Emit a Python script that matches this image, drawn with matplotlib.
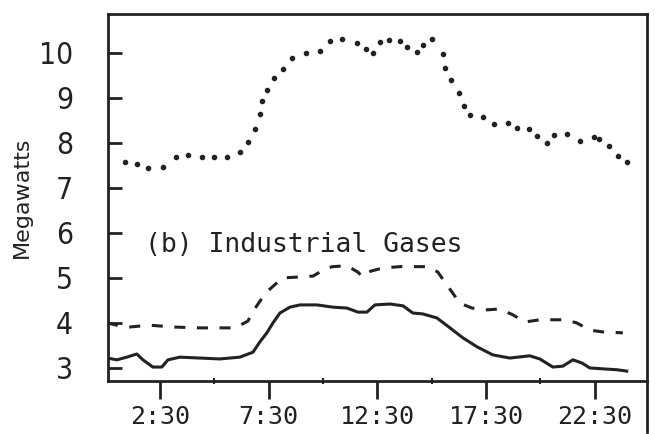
#!/usr/bin/env python3
"""
Load curve, (b) Industrial Gases: megawatts over the day
"""
import matplotlib
matplotlib.use('Agg')
import matplotlib.pyplot as plt

INK = '#222222'

# time of day in hours
dot_h = [0.89, 1.44, 1.95, 2.64, 3.24, 3.79, 4.43, 4.98, 5.58, 6.18, 6.55, 6.87,
         7.10, 7.19, 7.42, 7.74, 8.15, 8.57, 9.21, 9.86, 10.32, 10.87, 11.56,
         11.97, 12.29, 12.62, 13.03, 13.54, 13.86, 14.32, 14.59, 15.01, 15.51,
         15.60, 15.88, 16.25, 16.48, 16.75, 17.35, 17.86, 18.50, 18.92, 19.47,
         19.84, 20.29, 20.62, 21.21, 21.81, 22.46, 22.69, 23.15, 23.56, 23.97]
dot_mw = [7.57, 7.53, 7.44, 7.46, 7.68, 7.73, 7.68, 7.68, 7.68, 7.80, 8.02, 8.31,
          8.64, 8.93, 9.17, 9.44, 9.64, 9.88, 9.99, 10.04, 10.26, 10.30, 10.22,
          10.08, 9.99, 10.24, 10.28, 10.26, 10.13, 10.02, 10.17, 10.30, 9.97,
          9.66, 9.39, 9.11, 8.82, 8.62, 8.57, 8.42, 8.44, 8.33, 8.31,
          8.15, 8.00, 8.17, 8.20, 8.04, 8.13, 8.08, 7.93, 7.71, 7.57]

dash_h = [0.07, 0.52, 1.12, 2.04, 3.05, 4.29, 5.54, 5.95, 6.55, 6.73, 7.24, 7.42,
          7.88, 8.11, 8.94, 9.54, 10.18, 10.46, 11.10, 11.60, 11.83, 12.20, 12.75,
          13.54, 14.13, 14.82, 15.28, 15.60, 15.97, 16.29, 16.85, 17.54, 18.13,
          18.73, 19.28, 19.97, 20.57, 21.12, 21.67, 22.27, 22.87, 23.79]
dash_mw = [4.00, 3.95, 3.91, 3.95, 3.91, 3.89, 3.89, 3.89, 4.04, 4.22, 4.58, 4.69,
           4.89, 5.00, 5.02, 5.04, 5.22, 5.25, 5.27, 5.13, 5.02, 5.15, 5.22,
           5.25, 5.25, 5.25, 5.13, 4.91, 4.66, 4.44, 4.33, 4.29, 4.31,
           4.18, 4.02, 4.07, 4.07, 4.07, 4.00, 3.84, 3.80, 3.78]

sol_h = [0.10, 0.52, 0.98, 1.44, 1.72, 2.18, 2.59, 2.87, 3.42, 4.34, 5.26, 6.18,
         6.78, 7.10, 7.42, 7.70, 8.02, 8.48, 8.94, 9.72, 10.46, 11.10, 11.61,
         12.02, 12.39, 13.08, 13.68, 14.13, 14.59, 15.24, 15.84, 16.43, 17.08,
         17.81, 18.59, 19.51, 19.97, 20.57, 21.03, 21.49, 21.91, 22.27, 22.87,
         23.52, 23.97]
sol_mw = [3.22, 3.18, 3.24, 3.31, 3.18, 3.02, 3.02, 3.18, 3.24, 3.22, 3.20, 3.24,
          3.35, 3.58, 3.78, 4.00, 4.22, 4.35, 4.40, 4.40, 4.35, 4.33, 4.24,
          4.24, 4.40, 4.42, 4.38, 4.22, 4.20, 4.11, 3.89, 3.67, 3.47,
          3.29, 3.22, 3.27, 3.20, 3.02, 3.04, 3.18, 3.11, 3.00, 2.98,
          2.96, 2.93]

y_ticks = [3, 4, 5, 6, 7, 8, 9, 10]
x_ticks = [2.5, 7.5, 12.5, 17.5, 22.5]
x_labels = ['2:30', '7:30', '12:30', '17:30', '22:30']
x_minor = [5, 10, 15, 20]

fig = plt.figure(figsize=(6.55, 4.34), dpi=100)
ax = fig.add_axes([0.1644, 0.1221, 0.8234, 0.8456])

ax.plot(dot_h, dot_mw, ls='none', marker='o', ms=3.0, color=INK)
ax.plot(dash_h, dash_mw, color=INK, lw=2.2, dashes=(3.6, 3.8))
ax.plot(sol_h, sol_mw, color=INK, lw=2.2)

ax.text(1.81, 5.58, '(b) Industrial Gases', family='DejaVu Sans Mono',
        fontsize=19, color=INK, va='baseline')

ax.set_xlim(0.1, 24.9)
ax.set_ylim(2.71, 10.86)

ax.set_yticks(y_ticks)
ax.set_yticklabels([str(v) for v in y_ticks], family='DejaVu Sans',
                   fontstretch='condensed', fontsize=21.5)
ax.tick_params(axis='y', direction='in', length=10, width=2, color=INK,
               pad=25, labelcolor=INK)

ax.set_xticks(x_ticks)
ax.set_xticklabels(x_labels, family='DejaVu Sans Mono', fontsize=18)
ax.set_xticks(x_minor, minor=True)
ax.tick_params(axis='x', which='major', direction='out', length=13, width=2,
               color=INK, pad=4, labelcolor=INK)
ax.tick_params(axis='x', which='minor', direction='inout', length=4, width=1.5,
               color=INK)

ax.set_ylabel('Megawatts', fontsize=16, color=INK, labelpad=5)

for s in ax.spines.values():
    s.set_linewidth(2)
    s.set_color(INK)

# right border of the drawing runs down past the axis
ax.plot([1, 1], [0, -0.14], transform=ax.transAxes, clip_on=False,
        color=INK, lw=2)

fig.savefig('out.png', dpi=100)
